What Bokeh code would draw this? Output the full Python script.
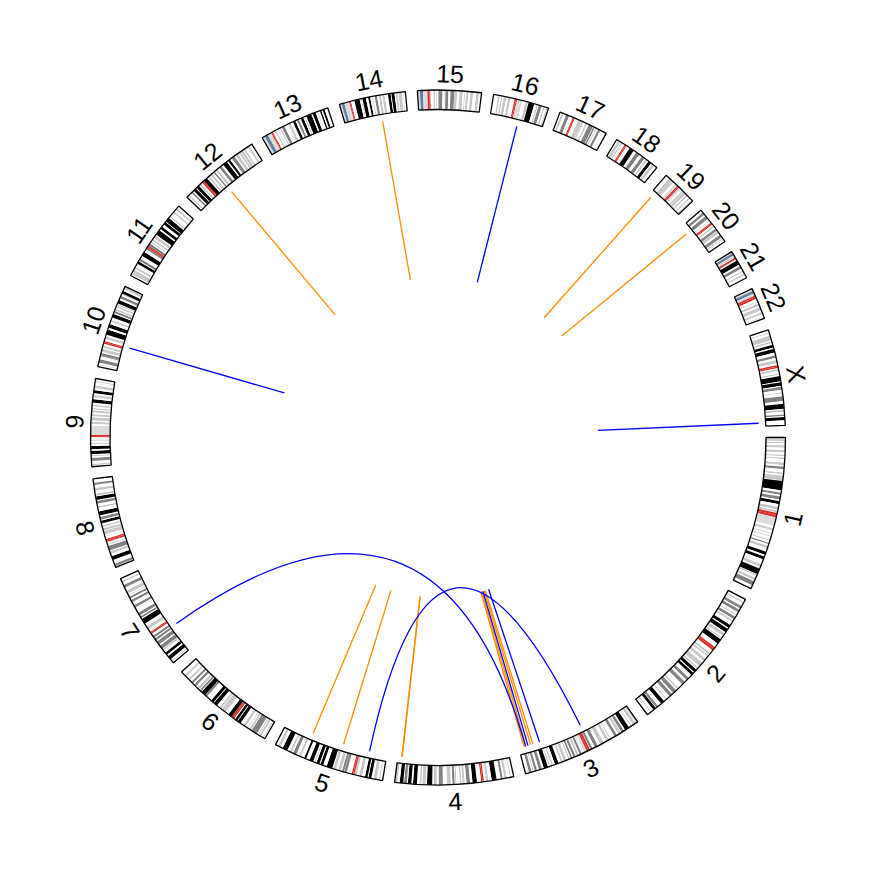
import math
from bokeh.plotting import figure
from bokeh.models import Range1d
from bokeh.embed import file_html
from bokeh.resources import INLINE
from bokeh.core.properties import value

# ---------------- data ----------------
CHROMS = ["1", "2", "3", "4", "5", "6", "7", "8", "9", "10", "11", "12",
          "13", "14", "15", "16", "17", "18", "19", "20", "21", "22", "X"]
CHROM_LEN = [249.25, 243.20, 198.02, 191.15, 180.92, 171.12, 159.14, 146.36,
             141.21, 135.53, 135.01, 133.85, 115.17, 107.35, 102.53, 90.35,
             81.20, 78.08, 59.13, 63.03, 48.13, 51.30, 155.27]

# cytobands (hg19, simplified): "end_Mb:stain"
CYTO_1 = "2.3:n 5.4:25 7.2:n 9.2:25 12.7:n 16.2:50 20.4:n 23.9:25 28.0:n 30.2:25 32.4:n 34.6:25 40.1:n 44.1:25 46.8:n 50.7:75 56.1:n 59.0:50 61.3:n 68.9:50 69.7:n 84.9:100 88.4:n 92.0:75 94.7:n 99.7:75 102.2:n 107.2:100 111.8:n 116.1:50 117.8:n 120.7:50 121.5:n 125.0:a 128.9:a 142.6:v 147.0:n 150.3:50 155.0:n 156.5:50 159.1:n 160.5:50 165.5:n 167.2:50 170.9:n 172.9:75 176.0:n 180.3:50 185.8:n 190.8:100 193.8:n 198.7:100 207.2:n 211.5:25 214.5:n 224.1:100 224.6:n 227.0:25 230.7:n 234.7:50 236.6:n 243.7:75 249.25:n"
CYTO_2 = "4.4:n 7.1:50 12.2:n 16.7:75 19.2:n 24.0:75 27.9:n 30.0:25 32.1:n 36.6:75 38.6:n 41.6:50 47.6:n 52.9:100 55.0:n 61.3:100 63.6:n 68.7:50 71.5:n 73.5:50 75.0:n 83.3:100 90.5:n 93.3:a 96.8:a 102.7:n 106.0:50 107.5:n 110.2:25 114.4:n 118.8:50 122.4:n 129.9:50 132.5:n 135.1:25 136.8:n 142.2:100 144.1:n 148.7:100 149.9:n 150.5:25 154.9:n 159.8:75 163.7:n 169.7:75 178.0:n 180.6:50 183.0:n 189.4:75 191.9:n 197.4:75 203.3:n 204.9:50 209.0:n 215.3:100 221.5:n 225.2:75 226.1:n 231.0:100 235.6:n 237.3:50 243.2:n"
CYTO_3 = "2.8:50 4.0:n 8.7:50 11.8:n 13.3:25 16.4:n 23.9:100 26.4:n 30.9:75 32.1:n 36.5:50 39.3:n 43.7:75 44.1:n 44.2:50 50.6:n 52.3:25 54.4:n 58.6:50 63.7:n 69.8:50 74.2:n 79.8:75 83.5:n 87.2:75 87.9:n 91.0:a 93.9:a 98.3:v 100.0:n 100.9:25 102.8:n 106.2:75 107.9:n 111.3:50 113.5:n 117.3:75 119.0:n 121.9:75 123.8:n 125.8:25 129.2:n 133.7:25 135.7:n 138.7:25 142.8:n 148.9:100 152.1:n 155.0:50 157.0:n 159.0:50 160.7:n 167.6:100 170.9:n 175.7:75 179.0:n 182.7:75 184.5:n 186.0:25 187.9:n 192.3:75 198.02:n"
CYTO_4 = "4.5:n 6.0:25 11.3:n 15.2:50 17.8:n 21.3:75 27.7:n 35.8:100 41.2:n 44.6:50 48.2:n 50.4:a 52.7:a 59.5:n 66.6:100 70.5:n 76.3:75 79.2:n 82.6:50 84.3:n 86.9:25 92.8:n 93.7:75 95.1:n 98.8:75 101.1:n 107.7:50 114.1:n 120.8:75 123.8:n 128.8:50 131.1:n 139.5:100 141.5:n 146.8:25 148.5:n 151.1:25 155.6:n 161.8:100 164.5:n 170.1:100 171.9:n 176.3:75 177.5:n 183.2:100 187.1:n 191.15:25"
CYTO_5 = "4.5:n 6.3:25 9.8:n 15.0:50 18.4:n 23.3:100 24.6:n 28.9:100 33.8:n 38.4:25 42.5:n 46.1:50 48.4:a 50.7:a 58.9:n 62.9:75 63.2:n 66.7:75 68.4:n 73.3:50 76.9:n 81.4:50 82.8:n 92.3:100 98.2:n 102.8:100 104.5:n 109.6:100 111.5:n 113.1:50 115.2:n 121.4:100 127.3:n 130.6:100 136.2:n 139.5:25 144.5:n 149.8:75 152.7:n 155.7:50 159.9:n 168.5:100 172.8:n 176.6:25 180.92:n"
CYTO_6 = "2.3:n 4.2:25 7.1:n 10.6:50 11.6:n 13.4:25 15.2:n 25.2:75 26.2:n 29.8:50 31.9:n 33.1:25 36.6:n 40.5:25 46.2:n 51.8:100 52.9:n 57.0:100 58.7:n 61.0:a 63.3:a 63.4:n 70.0:100 75.9:n 83.9:50 84.9:n 88.0:50 93.1:n 99.5:100 100.6:n 105.5:100 114.6:n 118.3:75 118.5:n 126.1:100 127.1:n 130.3:75 131.2:n 135.2:50 139.0:n 142.8:75 145.6:n 149.0:75 152.5:n 155.5:50 161.0:n 164.5:50 171.12:n"
CYTO_7 = "2.8:n 4.5:25 7.3:n 13.8:100 16.5:n 20.9:100 25.5:n 28.0:50 28.8:n 35.0:75 37.2:n 43.3:75 45.4:n 49.0:75 50.5:n 54.0:75 58.0:n 59.9:a 61.7:a 67.0:n 72.2:50 77.5:n 86.4:100 88.2:n 91.1:75 92.8:n 98.0:75 103.8:n 104.5:50 107.4:n 111.6:75 117.4:n 121.1:75 123.8:n 127.1:75 129.2:n 130.4:25 132.6:n 138.2:50 143.1:n 147.9:75 152.6:n 155.1:50 159.14:n"
CYTO_8 = "2.2:n 6.2:75 12.7:n 19.0:100 23.3:n 27.4:50 28.8:n 36.5:75 38.3:n 39.7:25 43.1:n 45.6:a 48.1:a 52.2:n 52.6:75 55.5:n 61.6:50 62.2:n 66.0:50 68.0:n 70.5:50 73.9:n 78.3:100 80.1:n 84.6:75 86.9:n 93.3:100 99.0:n 101.6:25 106.2:n 110.5:75 112.1:n 117.7:100 119.2:n 122.5:50 127.3:n 131.5:50 136.4:n 139.9:75 146.36:n"
CYTO_9 = "2.2:n 4.6:25 9.0:n 14.2:75 16.6:n 18.5:25 19.9:n 25.6:100 28.0:n 33.2:100 36.3:n 38.4:25 41.0:n 43.6:v 47.3:n 49.0:a 50.7:a 65.9:v 68.7:n 72.2:25 74.0:n 79.2:50 81.1:n 84.1:50 86.9:n 90.4:50 91.8:n 93.9:25 96.6:n 99.3:25 102.6:n 108.2:100 111.3:n 114.9:25 117.7:n 122.5:100 125.8:n 130.3:25 133.5:n 134.0:25 135.9:n 137.4:25 141.21:n"
CYTO_10 = "3.0:n 3.8:25 6.6:n 12.2:75 17.3:n 18.6:75 18.7:n 22.6:75 24.6:n 29.6:50 31.3:n 34.4:25 38.0:n 40.2:a 42.3:a 46.1:n 49.9:25 52.9:n 61.2:100 64.5:n 70.6:100 74.9:n 77.7:50 82.0:n 87.9:100 89.5:n 92.9:75 94.1:n 97.0:50 99.3:n 101.9:50 103.0:n 104.9:25 105.8:n 111.9:100 114.9:n 119.1:75 121.7:n 123.1:50 127.5:100 130.6:n 135.53:50"
CYTO_11 = "2.8:n 10.7:50 12.7:n 16.2:50 21.7:n 26.1:100 27.2:n 31.0:75 36.4:n 43.5:100 48.8:n 51.6:75 53.7:a 55.7:a 59.9:75 61.7:n 63.4:25 65.9:n 68.4:25 70.4:n 75.2:50 77.1:n 85.6:100 88.3:n 92.8:100 97.2:n 102.1:100 102.9:n 110.4:100 112.5:n 114.5:50 121.2:n 123.9:50 127.8:n 130.8:50 135.01:n"
CYTO_12 = "3.3:n 5.4:25 10.1:n 12.8:75 14.8:n 20.0:100 21.3:n 26.5:100 27.8:n 30.7:50 33.3:n 35.5:a 37.8:a 44.2:100 46.4:n 49.1:25 51.5:n 54.9:25 57.6:n 60.3:75 62.4:n 66.1:50 69.8:n 74.2:75 77.7:n 85.1:100 87.5:n 91.2:100 94.7:n 100.0:75 102.4:n 107.0:50 109.0:n 111.7:25 112.3:n 116.8:50 118.1:n 120.7:50 125.9:n 129.3:50 133.85:n"
CYTO_13 = "4.5:v 10.0:s 16.3:v 17.9:a 19.5:a 23.3:n 25.5:25 27.8:n 28.9:25 32.2:n 34.0:50 35.5:n 40.1:75 45.2:n 45.8:25 47.3:n 50.9:50 55.3:n 59.6:100 62.3:n 65.7:75 68.6:n 73.3:100 75.4:n 76.7:50 78.5:n 87.1:100 89.4:n 94.4:100 97.5:n 98.7:25 101.7:n 104.2:100 106.4:n 109.6:100 115.17:n"
CYTO_14 = "3.7:v 8.1:s 16.1:v 17.6:a 19.1:a 24.6:n 33.3:100 35.3:n 36.6:50 37.8:n 43.5:100 47.2:n 50.4:100 53.6:n 55.0:25 57.6:n 61.6:75 64.3:n 67.9:50 70.2:n 73.8:50 79.3:n 83.6:100 84.9:n 89.8:100 91.9:n 94.7:25 96.3:n 101.4:50 103.2:n 104.0:50 107.35:n"
CYTO_15 = "3.9:v 8.7:s 15.8:v 19.0:a 20.7:a 25.7:n 28.1:50 30.3:n 31.2:50 33.6:n 40.1:75 42.8:n 43.6:25 44.8:n 49.5:75 52.9:n 59.1:75 59.3:n 63.7:25 67.2:n 67.3:25 67.5:n 72.7:25 75.2:n 76.6:25 78.3:n 81.7:50 85.2:n 89.1:50 94.3:n 98.5:50 102.53:n"
CYTO_16 = "7.9:n 10.5:50 12.6:n 14.8:50 16.8:n 21.2:50 24.2:n 28.1:50 34.6:n 36.6:a 38.6:a 47.0:v 52.6:n 56.7:50 57.4:n 66.7:100 70.8:n 72.9:50 74.1:n 79.2:75 81.7:n 84.1:50 87.1:n 88.7:25 90.35:n"
CYTO_17 = "3.3:n 6.5:50 10.7:n 16.0:75 22.2:n 24.0:a 25.8:a 31.8:n 38.1:50 38.4:n 40.9:25 44.9:n 47.4:25 50.2:n 57.6:75 58.3:n 61.1:75 62.6:n 64.2:50 67.1:n 70.9:75 74.8:n 75.3:25 81.2:n"
CYTO_18 = "2.9:n 7.1:50 8.5:n 10.9:25 15.4:n 17.2:a 19.0:a 25.0:n 32.7:100 37.2:n 43.5:75 48.2:n 53.8:75 56.2:n 59.0:50 61.6:n 66.8:100 68.7:n 73.1:25 78.08:n"
CYTO_19 = "6.9:n 13.9:25 14.0:n 16.3:25 20.0:n 24.4:v 26.5:a 28.6:a 32.4:v 35.5:n 38.3:25 38.7:n 43.4:25 45.2:n 48.0:25 51.4:n 53.6:25 56.3:n 59.13:25"
CYTO_20 = "5.1:n 9.2:75 12.1:n 17.9:75 21.3:n 22.3:25 25.6:n 27.5:a 29.4:a 32.1:n 34.4:25 37.6:n 41.7:75 42.1:n 46.4:25 49.8:n 55.0:75 56.5:n 58.4:50 63.03:n"
CYTO_21 = "2.8:v 6.8:s 10.9:v 13.2:a 14.3:a 16.4:n 24.0:100 26.8:n 31.5:75 35.3:n 37.1:50 40.3:n 42.6:50 48.13:n"
CYTO_22 = "3.8:v 8.3:s 12.2:v 14.7:a 17.9:a 22.2:n 23.5:25 25.9:n 29.6:50 32.2:n 37.6:50 41.0:n 44.2:50 48.4:n 49.4:50 51.3:n"
CYTO_X = "4.3:n 6.0:50 9.7:n 17.4:50 19.2:n 21.9:50 24.9:n 29.3:100 31.5:n 37.6:100 42.4:n 46.4:75 49.8:n 54.8:25 58.1:n 60.6:a 63.0:a 64.6:n 67.8:50 71.8:n 73.9:50 76.0:n 84.6:100 86.2:n 91.8:100 93.5:n 98.3:75 102.6:n 103.7:50 108.7:n 116.5:75 120.9:n 128.8:100 130.4:n 133.6:25 138.0:n 140.3:75 142.1:n 147.1:100 155.27:n"
CYTO = [CYTO_1, CYTO_2, CYTO_3, CYTO_4, CYTO_5, CYTO_6, CYTO_7, CYTO_8, CYTO_9,
        CYTO_10, CYTO_11, CYTO_12, CYTO_13, CYTO_14, CYTO_15, CYTO_16, CYTO_17,
        CYTO_18, CYTO_19, CYTO_20, CYTO_21, CYTO_22, CYTO_X]

# one-ended links (chromosome, position Mb, colour)
END_CHR = ["12", "14", "16", "19", "20", "10", "X", "5", "5", "4", "4",
           "3", "3", "3", "3", "3", "3"]
END_POS = [60.3, 63.5, 48.3, 5.1, 14.7, 42.5, 150.0, 132.6, 76.7, 183.6, 184.3,
           188.9, 185.3, 181.7, 177.0, 172.9, 160.9]
END_COL = ["orange", "orange", "blue", "orange", "orange", "blue", "blue",
           "orange", "orange", "orange", "orange",
           "orange", "orange", "blue", "orange", "orange", "blue"]

# two-ended links
LINK_CHR1 = ["7", "5"]
LINK_POS1 = [48.5, 30.3]
LINK_CHR2 = ["3", "3"]
LINK_POS2 = [186.0, 84.8]
LINK_COL = ["blue", "blue"]

STAIN_COL = {"n": "#FFFFFF", "25": "#C8C8C8", "50": "#C8C8C8", "75": "#828282",
             "100": "#000000", "v": "#DCDCDC", "a": "#D92F27", "s": "#647FA4"}
COLMAP = {"orange": "#FF8C00", "blue": "#0000FF"}

# ---------------- geometry ----------------
GAP = 2.0
R_OUT, R_IN = 347.5, 328.0
R_LINK, R_HALF = 321.0, 160.0
R_LAB = 364.0
k = (360.0 - GAP * len(CHROMS)) / sum(CHROM_LEN)
offsets = []
acc = 0.0
for i, L in enumerate(CHROM_LEN):
    offsets.append(acc * k + GAP * i)
    acc += L
idx = {c: i for i, c in enumerate(CHROMS)}


def ang(ci, pos):
    return math.radians(-(offsets[ci] + pos * k))


p = figure(width=875, height=875, output_backend="svg", toolbar_location=None,
           x_range=Range1d(-437.5, 437.5), y_range=Range1d(-438, 437),
           min_border=0)
p.axis.visible = False
p.grid.visible = False
p.outline_line_color = None
p.background_fill_color = "white"
p.border_fill_color = "white"

# bands
bs, be, bc = [], [], []
for ci, s in enumerate(CYTO):
    prev = 0.0
    L = CHROM_LEN[ci]
    for tok in s.split():
        e, st = tok.split(":")
        e = min(float(e), L)
        bs.append(ang(ci, e))
        be.append(ang(ci, prev))
        bc.append(STAIN_COL[st])
        prev = e
    if prev < L:
        bs.append(ang(ci, L)); be.append(ang(ci, prev)); bc.append("#FFFFFF")

p.annular_wedge(x=0, y=0, inner_radius=R_IN, outer_radius=R_OUT,
                start_angle=bs, end_angle=be, fill_color=bc, line_color=None)

# outlines
os_, oe = [], []
for ci, L in enumerate(CHROM_LEN):
    os_.append(ang(ci, L))
    oe.append(ang(ci, 0))
p.annular_wedge(x=0, y=0, inner_radius=R_IN, outer_radius=R_OUT,
                start_angle=os_, end_angle=oe, fill_color=None,
                line_color="black", line_width=1.3)

# labels
lx, ly, la = [], [], []
for ci, L in enumerate(CHROM_LEN):
    a = ang(ci, L / 2.0)
    deg = math.degrees(a) % 360
    rot = deg - 90 if deg < 180 else deg + 90
    lx.append(R_LAB * math.cos(a))
    ly.append(R_LAB * math.sin(a))
    la.append(math.radians(rot))
p.text(x=lx, y=ly, text=CHROMS, angle=la, text_align="center",
       text_baseline="middle", text_font=value("Liberation Sans"),
       text_font_size="25px", text_color="black")

# one-ended links
sx0, sy0, sx1, sy1, sc = [], [], [], [], []
for c, pos, col in zip(END_CHR, END_POS, END_COL):
    a = ang(idx[c], pos)
    sx0.append(R_LINK * math.cos(a)); sy0.append(R_LINK * math.sin(a))
    sx1.append(R_HALF * math.cos(a)); sy1.append(R_HALF * math.sin(a))
    sc.append(COLMAP[col])
p.segment(x0=sx0, y0=sy0, x1=sx1, y1=sy1, line_color=sc, line_width=1.3)

# two-ended links (bezier via centre)
qx0, qy0, qx1, qy1, qc = [], [], [], [], []
for c1, p1, c2, p2, col in zip(LINK_CHR1, LINK_POS1, LINK_CHR2, LINK_POS2, LINK_COL):
    a1 = ang(idx[c1], p1); a2 = ang(idx[c2], p2)
    qx0.append(R_LINK * math.cos(a1)); qy0.append(R_LINK * math.sin(a1))
    qx1.append(R_LINK * math.cos(a2)); qy1.append(R_LINK * math.sin(a2))
    qc.append(COLMAP[col])
p.quadratic(x0=qx0, y0=qy0, x1=qx1, y1=qy1, cx=0, cy=0,
            line_color=qc, line_width=1.3)

open("out.html", "w").write(file_html(p, INLINE))
